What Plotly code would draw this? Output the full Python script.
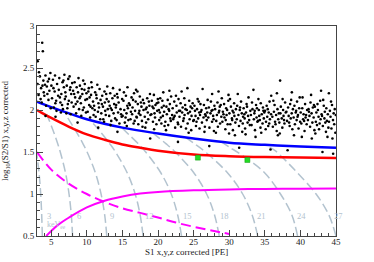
import plotly.graph_objects as go

# ---------------- data ----------------
x_ticks = [5, 10, 15, 20, 25, 30, 35, 40, 45]
y_ticks = [0.5, 1.0, 1.5, 2.0, 2.5, 3.0]
y_tick_text = ["0.5", "1", "1.5", "2", "2.5", "3"]

blue_x = [3, 5, 7.5, 10, 15, 20, 25, 30, 35, 40, 45]
blue_y = [2.10, 2.035, 1.96, 1.89, 1.79, 1.72, 1.66, 1.61, 1.585, 1.565, 1.55]

red_x = [3, 4, 5, 7.5, 10, 12.5, 15, 17.5, 20, 25, 30, 35, 40, 45]
red_y = [2.0, 1.95, 1.905, 1.80, 1.71, 1.645, 1.59, 1.55, 1.515, 1.47, 1.45, 1.44, 1.435, 1.43]

mag_dash_x = [3, 5, 7.5, 10, 12.5, 15, 17.5, 20, 22.5, 25, 27.5, 30]
mag_dash_y = [1.5, 1.29, 1.12, 1.0, 0.905, 0.83, 0.775, 0.72, 0.66, 0.61, 0.565, 0.525]

mag_solid_x = [4.3, 5, 6, 7.5, 10, 12.5, 15, 17.5, 20, 25, 30, 35, 40, 45]
mag_solid_y = [0.5, 0.56, 0.635, 0.72, 0.84, 0.92, 0.97, 1.005, 1.025, 1.045, 1.055, 1.06, 1.063, 1.065]

green_x = [25.6, 32.55]
green_y = [1.433, 1.405]

contour_labels = ["3", "6", "9", "12", "15", "18", "21", "24", "27"]
contour_x = [
    [3.75, 3.66, 3.52, 3.29, 2.94],
    [8.0, 7.82, 7.50, 7.01, 6.27, 5.90, 5.50, 5.06, 4.60, 4.2],
    [12.8, 12.51, 12.0, 11.21, 10.04, 9.45, 8.79, 8.09, 7.36, 7.1],
    [17.9, 17.49, 16.79, 15.68, 14.03, 13.21, 12.30, 11.31, 10.6],
    [23.3, 22.76, 21.86, 20.41, 18.27, 17.2, 16.0, 15.39, 14.9],
    [28.6, 27.94, 26.83, 25.05, 22.42, 21.1, 19.65, 19.2],
    [34.0, 33.22, 31.89, 29.78, 26.66, 25.09, 23.9],
    [39.6, 38.8, 37.2, 35.0, 32.0, 30.0, 29.0],
    [45.0, 44.0, 42.2, 39.6, 37.9, 36.4, 35.2],
]
contour_y = [
    [0.5, 0.75, 1.0, 1.25, 1.5],
    [0.5, 0.75, 1.0, 1.25, 1.5, 1.6, 1.7, 1.8, 1.9, 1.98],
    [0.5, 0.75, 1.0, 1.25, 1.5, 1.6, 1.7, 1.8, 1.9, 1.93],
    [0.5, 0.75, 1.0, 1.25, 1.5, 1.6, 1.7, 1.8, 1.865],
    [0.5, 0.75, 1.0, 1.25, 1.5, 1.6, 1.7, 1.75, 1.79],
    [0.5, 0.75, 1.0, 1.25, 1.5, 1.6, 1.7, 1.73],
    [0.5, 0.75, 1.0, 1.25, 1.5, 1.6, 1.67],
    [0.5, 0.75, 1.0, 1.25, 1.45, 1.56, 1.615],
    [0.5, 0.75, 1.0, 1.25, 1.4, 1.52, 1.575],
]

dots = [
 (3.1,2.58),(3.73,2.80),(3.82,2.70),
 (3.08,2.31),(3.22,2.18),(3.41,2.40),(3.57,2.26),(3.66,2.09),(3.89,2.35),(3.95,2.21),(3.28,2.45),(3.51,2.13),(3.77,2.29),
 (4.03,2.17),(4.19,2.41),(4.27,2.05),(4.38,2.28),(4.52,2.34),(4.61,2.12),(4.74,2.23),(4.88,2.44),(4.93,2.02),(4.46,2.19),(4.12,2.30),(4.69,2.37),(4.2,1.93),
 (5.02,2.29),(5.11,2.14),(5.24,2.36),(5.37,2.03),(5.48,2.22),(5.53,2.41),(5.69,2.11),(5.82,2.31),(5.97,2.17),(5.31,2.26),(5.74,1.99),(5.58,2.08),(5.6,1.92),
 (6.06,2.24),(6.13,2.38),(6.29,2.09),(6.42,2.19),(6.58,2.33),(6.64,2.01),(6.77,2.27),(6.91,2.13),(6.36,1.97),(6.85,2.42),(6.21,2.15),(6.52,2.06),(6.98,2.21),(6.71,2.35),
 (7.04,2.16),(7.18,2.29),(7.26,2.02),(7.39,2.37),(7.47,2.11),(7.62,2.24),(7.73,1.95),(7.81,2.19),(7.94,2.32),(7.33,2.07),(7.58,2.40),(7.12,1.96),(7.87,2.09),(7.69,2.27),
 (8.07,2.23),(8.14,2.04),(8.28,2.33),(8.36,2.15),(8.49,1.96),(8.57,2.27),(8.68,2.10),(8.83,2.38),(8.91,2.01),(8.22,2.19),(8.44,2.07),(8.76,2.21),(8.7,1.85),(8.98,2.14),
 (9.03,2.29),(9.16,2.08),(9.22,1.93),(9.37,2.19),(9.49,2.35),(9.58,2.03),(9.66,2.24),(9.79,2.12),(9.88,1.97),(9.11,2.16),(9.43,2.00),(9.71,2.31),(9.94,2.20),(9.29,2.25),
 (10.04,2.13),(10.12,1.98),(10.27,2.26),(10.33,2.06),(10.46,1.91),(10.59,2.18),(10.63,2.33),(10.78,2.02),(10.87,2.10),(10.95,1.94),(10.21,2.22),(10.52,2.04),(10.71,2.27),(10.39,2.15),
 (11.02,2.05),(11.17,2.21),(11.24,1.92),(11.38,2.14),(11.47,2.30),(11.56,1.98),(11.63,2.08),(11.79,2.25),(11.88,1.89),(11.93,2.12),(11.11,2.00),(11.33,2.18),(11.71,2.03),(11.6,1.79),
 (12.03,1.96),(12.16,2.17),(12.27,2.04),(12.31,1.89),(12.48,2.22),(12.53,2.09),(12.66,1.94),(12.79,2.13),(12.87,2.28),(12.94,2.01),(12.11,2.07),(12.42,1.86),(12.72,2.19),(12.58,1.99),
 (13.06,2.10),(13.14,1.93),(13.29,2.20),(13.37,2.02),(13.43,1.87),(13.59,2.14),(13.68,2.26),(13.76,1.96),(13.84,2.07),(13.97,1.90),(13.21,2.05),(13.52,2.00),(13.91,2.17),(13.33,1.82),
 (14.07,2.03),(14.18,1.88),(14.24,2.19),(14.39,1.97),(14.47,2.09),(14.58,1.84),(14.62,2.24),(14.73,2.01),(14.89,1.92),(14.96,2.13),(14.12,2.06),(14.33,2.15),(14.81,1.95),(14.3,1.74),
 (15.03,1.93),(15.15,2.11),(15.26,2.00),(15.34,1.85),(15.49,2.17),(15.57,1.96),(15.68,2.05),(15.71,2.27),(15.83,1.88),(15.92,2.08),(15.21,2.21),(15.44,1.91),(15.77,2.02),(15.61,1.81),
 (16.04,2.06),(16.13,1.89),(16.28,2.15),(16.36,1.95),(16.42,2.03),(16.57,1.84),(16.63,2.20),(16.78,1.99),(16.86,2.10),(16.97,1.92),(16.19,1.98),(16.49,2.12),(16.72,1.87),(16.91,2.24),
 (17.02,1.91),(17.16,2.07),(17.23,1.83),(17.38,1.99),(17.44,2.16),(17.53,1.94),(17.67,2.04),(17.74,1.87),(17.88,2.12),(17.96,2.00),(17.11,2.22),(17.31,1.96),(17.59,2.09),(17.82,1.80),
 (18.03,2.08),(18.14,1.92),(18.27,2.01),(18.33,1.85),(18.48,2.14),(18.56,1.97),(18.62,1.89),(18.79,2.05),(18.87,2.19),(18.93,1.94),(18.21,1.79),(18.41,2.03),(18.71,2.10),(18.9,1.66),
 (19.06,1.95),(19.13,2.11),(19.29,1.86),(19.37,2.02),(19.42,2.18),(19.58,1.91),(19.64,2.06),(19.77,1.83),(19.89,1.99),(19.97,2.13),(19.22,2.04),(19.51,1.96),(19.83,2.08),(19.45,1.77),
 (20.04,2.09),(20.17,1.88),(20.26,1.97),(20.31,2.14),(20.47,1.84),(20.53,2.03),(20.68,1.93),(20.74,2.21),(20.86,1.98),(20.92,1.81),(20.12,2.00),(20.39,1.91),(20.61,2.11),(20.81,2.05),
 (21.03,1.86),(21.18,2.04),(21.24,1.95),(21.36,2.12),(21.43,1.82),(21.57,1.99),(21.66,2.07),(21.72,1.90),(21.84,2.16),(21.98,1.94),(21.12,1.76),(21.49,2.01),(21.79,1.87),(21.6,2.23),
 (22.06,2.02),(22.13,1.89),(22.28,2.10),(22.34,1.93),(22.41,1.79),(22.59,2.05),(22.63,1.97),(22.77,1.85),(22.88,2.13),(22.94,1.99),(22.21,1.91),(22.52,2.17),(22.83,1.83),(22.8,1.62),
 (23.02,1.92),(23.17,2.08),(23.23,1.80),(23.39,1.97),(23.46,2.03),(23.54,1.87),(23.69,2.14),(23.73,1.94),(23.86,2.01),(23.93,1.78),(23.11,1.99),(23.31,2.22),(23.62,1.90),(23.81,2.06),
 (24.05,2.00),(24.16,1.84),(24.22,1.96),(24.38,2.11),(24.44,1.89),(24.57,2.04),(24.66,1.76),(24.71,1.93),(24.87,2.08),(24.95,1.87),(24.13,2.26),(24.49,1.98),(24.79,2.02),(24.3,1.73),
 (25.04,1.88),(25.12,2.05),(25.27,1.93),(25.33,1.81),(25.48,2.01),(25.56,2.13),(25.64,1.90),(25.79,1.97),(25.83,1.78),(25.96,2.07),(25.19,1.99),(25.41,1.86),(25.72,2.10),(25.9,1.94),
 (26.03,1.98),(26.17,1.85),(26.26,2.25),(26.39,1.91),(26.45,2.06),(26.58,1.80),(26.62,1.95),(26.76,2.02),(26.84,1.88),(26.97,2.12),(26.11,2.00),(26.52,1.74),(26.7,1.93),(26.91,1.97),
 (27.06,1.91),(27.14,2.03),(27.22,1.79),(27.37,1.96),(27.43,2.10),(27.59,1.86),(27.66,2.00),(27.74,1.93),(27.85,1.75),(27.92,2.05),(27.2,1.57),(27.51,1.99),(27.6,2.19),(27.81,1.89),
 (28.02,2.01),(28.18,1.87),(28.27,1.94),(28.35,2.09),(28.41,1.80),(28.53,1.97),(28.67,2.04),(28.72,1.84),(28.89,1.92),(28.96,2.14),(28.5,2.22),(28.13,1.73),(28.6,1.99),(28.81,2.06),
 (29.04,1.86),(29.11,1.98),(29.28,2.07),(29.33,1.91),(29.46,1.77),(29.57,2.02),(29.63,1.94),(29.78,1.83),(29.87,2.11),(29.9,2.18),(29.19,1.95),(29.51,1.88),(29.71,2.00),(29.98,1.72),
 (30.03,1.96),(30.15,1.83),(30.24,2.04),(30.38,1.90),(30.47,1.99),(30.52,1.76),(30.69,2.08),(30.73,1.93),(30.86,1.85),(30.94,2.01),(30.11,2.13),(30.42,1.88),(30.61,1.97),(30.8,1.70),
 (31.06,1.89),(31.12,2.05),(31.2,2.19),(31.29,1.94),(31.37,1.81),(31.4,1.55),(31.48,2.00),(31.59,1.87),(31.66,2.10),(31.77,1.96),(31.83,1.74),(31.95,1.92),(31.52,2.03),(31.9,1.84),
 (32.03,2.02),(32.17,1.90),(32.23,1.78),(32.36,1.97),(32.44,2.07),(32.58,1.85),(32.65,1.93),(32.71,2.15),(32.89,1.82),(32.97,1.99),(32.13,1.95),(32.5,2.04),(32.8,1.88),(32.3,1.71),
 (33.05,1.94),(33.14,1.82),(33.27,2.01),(33.4,2.24),(33.46,1.89),(33.53,1.96),(33.62,1.76),(33.77,2.06),(33.84,1.91),(33.96,1.86),(33.2,2.09),(33.58,1.99),(33.7,1.68),(33.9,2.02),
 (34.04,1.87),(34.16,2.00),(34.22,1.93),(34.39,1.79),(34.43,2.08),(34.57,1.95),(34.68,1.84),(34.74,2.03),(34.86,1.90),(34.93,1.97),(34.1,2.13),(34.5,1.73),(34.8,1.99),(34.3,1.88),
 (35.03,1.99),(35.17,1.86),(35.26,2.05),(35.34,1.92),(35.48,1.81),(35.55,1.97),(35.67,2.10),(35.72,1.89),(35.8,1.53),(35.88,1.95),(35.9,2.17),(35.12,1.77),(35.41,2.01),(35.62,1.84),
 (36.06,1.92),(36.13,1.80),(36.28,1.98),(36.37,2.06),(36.44,1.86),(36.59,1.94),(36.67,1.75),(36.7,2.20),(36.78,2.01),(36.89,1.89),(36.97,1.96),(36.2,2.11),(36.51,1.83),(36.84,1.70),
 (37.04,1.85),(37.15,2.35),(37.19,1.96),(37.25,2.04),(37.38,1.90),(37.46,1.79),(37.57,2.00),(37.63,1.93),(37.76,1.84),(37.85,2.09),(37.94,1.97),(37.1,1.72),(37.5,2.13),(37.7,1.88),
 (38.03,1.98),(38.12,1.87),(38.2,1.52),(38.27,2.03),(38.35,1.93),(38.49,1.81),(38.56,2.07),(38.64,1.90),(38.78,1.96),(38.8,2.21),(38.87,1.77),(38.95,2.01),(38.41,1.85),(38.7,2.12),
 (39.05,1.91),(39.16,2.05),(39.23,1.83),(39.34,1.97),(39.47,1.88),(39.53,2.10),(39.66,1.94),(39.74,1.78),(39.83,2.02),(39.96,1.86),(39.1,1.70),(39.4,1.99),(39.6,1.92),(39.9,2.15),
 (40.04,1.97),(40.13,1.84),(40.26,2.02),(40.3,2.15),(40.38,1.89),(40.45,1.95),(40.58,1.75),(40.66,2.07),(40.73,1.91),(40.88,1.83),(40.94,2.00),(40.2,1.68),(40.52,1.87),(40.8,1.94),
 (41.06,1.88),(41.14,2.01),(41.27,1.93),(41.36,1.80),(41.42,2.09),(41.5,2.18),(41.57,1.96),(41.68,1.85),(41.75,2.03),(41.86,1.91),(41.97,1.76),(41.2,1.98),(41.6,1.66),(41.9,2.06),
 (42.03,2.04),(42.17,1.86),(42.24,1.97),(42.33,1.82),(42.46,2.00),(42.55,1.92),(42.62,1.77),(42.78,2.11),(42.84,1.89),(42.9,2.23),(42.98,1.95),(42.1,1.72),(42.4,2.07),(42.7,1.84),
 (43.04,1.93),(43.1,1.50),(43.15,1.81),(43.28,2.05),(43.37,1.90),(43.43,1.98),(43.59,1.74),(43.64,2.02),(43.72,1.87),(43.85,1.95),(43.93,1.79),(43.2,2.12),(43.5,1.85),(43.8,1.68),
 (44.02,1.86),(44.0,2.20),(44.14,1.99),(44.23,1.92),(44.36,1.78),(44.44,2.06),(44.58,1.88),(44.6,1.48),(44.67,1.96),(44.75,1.83),(44.82,2.01),(44.91,1.73),(44.97,1.94),(44.3,2.10),(44.5,1.66),
]
dots_x = [p[0] for p in dots]
dots_y = [p[1] for p in dots]

x_title = "S1 x,y,z corrected [PE]"
y_title = "log<sub>10</sub>(S2/S1) x,y,z corrected"

# ---------------- styles ----------------
FONT = "Liberation Serif, Times New Roman, serif"
CONTOUR_COLOR = "#b3c3cf"
AXIS_COLOR = "#444444"

fig = go.Figure()

for cx, cy in zip(contour_x, contour_y):
    fig.add_trace(go.Scatter(x=cx, y=cy, mode="lines",
                             line=dict(color=CONTOUR_COLOR, width=1.5, dash="9px,4px", shape="spline"),
                             hoverinfo="skip"))

fig.add_trace(go.Scatter(x=mag_dash_x, y=mag_dash_y, mode="lines",
                         line=dict(color="#ff00ff", width=2, dash="10px,5px", shape="spline")))
fig.add_trace(go.Scatter(x=mag_solid_x, y=mag_solid_y, mode="lines",
                         line=dict(color="#ff00ff", width=2, shape="spline")))
fig.add_trace(go.Scatter(x=red_x, y=red_y, mode="lines",
                         line=dict(color="#ff0000", width=2.5, shape="spline")))
fig.add_trace(go.Scatter(x=blue_x, y=blue_y, mode="lines",
                         line=dict(color="#0000ff", width=2.5, shape="spline")))
fig.add_trace(go.Scatter(x=dots_x, y=dots_y, mode="markers",
                         marker=dict(color="black", size=2.6, line=dict(width=0))))
fig.add_trace(go.Scatter(x=green_x, y=green_y, mode="markers",
                         marker=dict(color="#22dd22", size=5, symbol="square",
                                     line=dict(color="#119911", width=0.5))))

# contour energy labels
for lab, cx, cy in zip(contour_labels, contour_x, contour_y):
    fig.add_annotation(x=cx[1] + 0.45, y=0.74, text=lab, showarrow=False,
                       xanchor="left", yanchor="middle",
                       font=dict(family=FONT, size=8.5, color=CONTOUR_COLOR))
fig.add_annotation(x=contour_x[0][1] + 0.45, y=0.635, text="keV<sub>ee</sub>", showarrow=False,
                   xanchor="left", yanchor="middle",
                   font=dict(family=FONT, size=8, color=CONTOUR_COLOR))

# x-axis title placed just under the tick labels
fig.add_annotation(xref="paper", yref="paper", x=0.5, y=-0.047, text=x_title, showarrow=False,
                   xanchor="center", yanchor="top", borderpad=0,
                   font=dict(family=FONT, size=9, color="#222222"))

fig.update_layout(
    width=374, height=262,
    margin=dict(l=37, r=38, t=26, b=26),
    paper_bgcolor="white", plot_bgcolor="white",
    showlegend=False,
    font=dict(family=FONT, size=9, color="#222222"),
    xaxis=dict(range=[3, 45], tickmode="array", tickvals=x_ticks, automargin=False,
               ticks="inside", ticklen=6, tickwidth=1, tickcolor=AXIS_COLOR,
               ticklabelstandoff=-3,
               minor=dict(tick0=0, dtick=1, ticks="inside", ticklen=3, tickcolor=AXIS_COLOR),
               showline=True, linecolor=AXIS_COLOR, linewidth=1, mirror=True,
               showgrid=False, zeroline=False),
    yaxis=dict(range=[0.5, 3], tickmode="array", tickvals=y_ticks, ticktext=y_tick_text, automargin=False,
               ticks="inside", ticklen=6, tickwidth=1, tickcolor=AXIS_COLOR,
               minor=dict(tick0=0, dtick=0.1, ticks="inside", ticklen=3, tickcolor=AXIS_COLOR),
               showline=True, linecolor=AXIS_COLOR, linewidth=1, mirror=True,
               showgrid=False, zeroline=False,
               title=dict(text=y_title, font=dict(size=9))),
)

fig.write_html("out.html", config={"displayModeBar": False},
               post_script="document.body.style.margin='0';")
